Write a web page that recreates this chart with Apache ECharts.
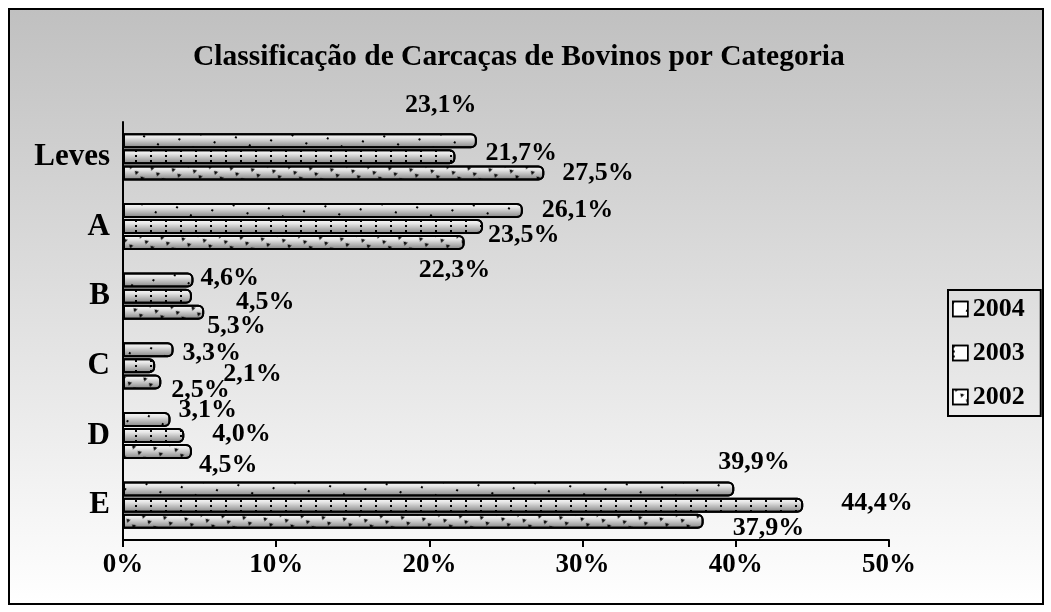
<!doctype html>
<html>
    <head>
        <meta charset="utf-8">
        <title>Classificação de Carcaças de Bovinos por Categoria</title>
        <style>
            html, body { margin: 0; padding: 0; background: #fff; }
            #main { width: 1051px; height: 612px; }
        </style>
    </head>
    <body>
        <div id="main"></div>
        <script src="https://cdn.jsdelivr.net/npm/echarts@6/dist/echarts.min.js"></script>
        <script>
            var categories = ['Leves', 'A', 'B', 'C', 'D', 'E'];
            var years = ['2004', '2003', '2002'];
            var values2004 = [23.1, 26.1, 4.6, 3.3, 3.1, 39.9];
            var values2003 = [21.7, 23.5, 4.5, 2.1, 4.0, 44.4];
            var values2002 = [27.5, 22.3, 5.3, 2.5, 4.5, 37.9];
            var xTicks = [0, 10, 20, 30, 40, 50];

            // where Excel dropped each label, relative to the usual spot right of the bar
            var labelShift = {
                '2004': [[-77, -36], [14, 0], [2, -2], [4, 3], [3, -9], [-21, -27]],
                '2003': [[25, -4], [0, 9], [39, 6], [63, 8], [23, -1], [33, -2]],
                '2002': [[13, 0], [-51, 28], [-2, 14], [5, 8], [2, 14], [24, 7]]
            };

            var serif = 'Liberation Serif';
            var chart = echarts.init(document.getElementById('main'));

            var cylinder = new echarts.graphic.LinearGradient(0, 0, 0, 1, [
                { offset: 0, color: '#ffffff' },
                { offset: 0.3, color: '#e6e6e6' },
                { offset: 1, color: '#7f7f7f' }
            ]);

            var decals = {
                '2004': { symbol: 'rect', color: '#000', dashArrayX: [2, 14], dashArrayY: [2, 13], symbolSize: 1 },
                '2003': { symbol: 'rect', color: '#000', dashArrayX: [2, 13], dashArrayY: [2, 3], symbolSize: 1 },
                '2002': { symbol: 'triangle', color: '#000', dashArrayX: [5, 9], dashArrayY: [4, 4], symbolSize: 0.9 }
            };

            function makeSeries(name, vals) {
                return {
                    name: name,
                    type: 'bar',
                    barWidth: 15,
                    barGap: '7%',
                    data: vals.map(function (v, i) {
                        return { value: v, label: { offset: labelShift[name][i] } };
                    }),
                    itemStyle: {
                        color: cylinder,
                        borderColor: '#000',
                        borderWidth: 2,
                        borderRadius: [0, 5, 5, 0],
                        decal: decals[name]
                    },
                    label: {
                        show: true,
                        position: 'right',
                        fontFamily: serif,
                        fontWeight: 'bold',
                        fontSize: 26,
                        color: '#000',
                        formatter: function (p) {
                            return p.value.toFixed(1).replace('.', ',') + '%';
                        }
                    }
                };
            }

            chart.setOption({
                animation: false,
                aria: { enabled: true, decal: { show: true } },
                graphic: [{
                    type: 'rect',
                    z: -10,
                    shape: { x: 9, y: 9, width: 1034, height: 595 },
                    style: {
                        fill: new echarts.graphic.LinearGradient(0, 0, 0, 1, [
                            { offset: 0, color: '#c0c0c0' },
                            { offset: 1, color: '#ffffff' }
                        ]),
                        stroke: '#000',
                        lineWidth: 2
                    }
                }],
                title: {
                    text: 'Classificação de Carcaças de Bovinos por Categoria',
                    left: 188,
                    top: 37,
                    textStyle: {
                        fontFamily: serif,
                        fontWeight: 'bold',
                        fontSize: 29.5,
                        color: '#000'
                    }
                },
                legend: {
                    data: years,
                    orient: 'vertical',
                    left: 948,
                    top: 290,
                    padding: [6, 16, 6, 4],
                    itemGap: 18,
                    itemWidth: 15,
                    itemHeight: 15,
                    itemTextGap: 5,
                    icon: 'rect',
                    borderColor: '#000',
                    borderWidth: 2,
                    itemStyle: { color: '#fff', borderColor: '#000', borderWidth: 1.5 },
                    textStyle: {
                        fontFamily: serif,
                        fontWeight: 'bold',
                        fontSize: 26,
                        color: '#000'
                    }
                },
                grid: { left: 123, right: 162, top: 122, bottom: 72 },
                xAxis: {
                    type: 'value',
                    min: xTicks[0],
                    max: xTicks[xTicks.length - 1],
                    interval: 10,
                    splitLine: { show: false },
                    axisLine: { show: true, lineStyle: { color: '#000', width: 2 } },
                    axisTick: { show: true, length: 7, lineStyle: { color: '#000', width: 2 } },
                    axisLabel: {
                        margin: 12,
                        formatter: '{value}%',
                        fontFamily: serif,
                        fontWeight: 'bold',
                        fontSize: 27,
                        color: '#000'
                    }
                },
                yAxis: {
                    type: 'category',
                    inverse: true,
                    data: categories,
                    axisLine: { lineStyle: { color: '#000', width: 2 } },
                    axisTick: { length: 6, lineStyle: { color: '#000', width: 2 } },
                    axisLabel: {
                        margin: 13,
                        fontFamily: serif,
                        fontWeight: 'bold',
                        fontSize: 31,
                        color: '#000'
                    }
                },
                series: [
                    makeSeries('2004', values2004),
                    makeSeries('2003', values2003),
                    makeSeries('2002', values2002)
                ]
            });

            window.onresize = chart.resize;
        </script>
    </body>
</html>
